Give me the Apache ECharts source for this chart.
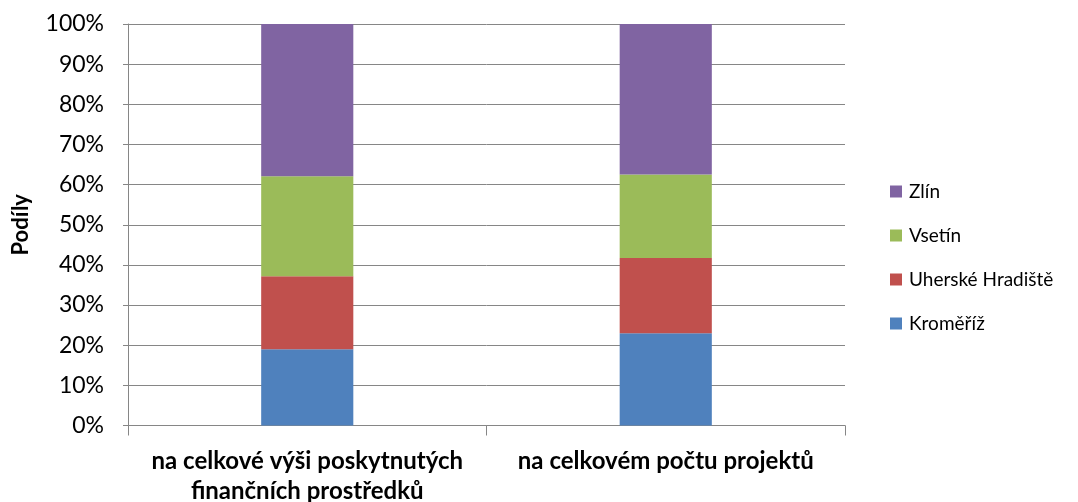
<!DOCTYPE html>
<html><head><meta charset="utf-8">
<script src="https://cdn.jsdelivr.net/npm/echarts@6/dist/echarts.min.js"></script>
<style>html,body{margin:0;padding:0;background:#fff}#c{width:1078px;height:502px}</style>
</head><body><div id="c"></div>
<script>
const categories = ['na celkové výši poskytnutých\nfinančních prostředků', 'na celkovém počtu projektů'];
const seriesNames = ['Kroměříž', 'Uherské Hradiště', 'Vsetín', 'Zlín'];
const kromeriz = [19.0, 23.0];
const uherskeHradiste = [18.2, 18.7];
const vsetin = [24.9, 20.8];
const zlin = [37.9, 37.5];
const yTicks = [0, 10, 20, 30, 40, 50, 60, 70, 80, 90, 100];
const colors = ['#4F81BD', '#C0504D', '#9BBB59', '#8064A2'];
const values = [kromeriz, uherskeHradiste, vsetin, zlin];
const font = 'Lato, "Open Sans", sans-serif';

const chart = echarts.init(document.getElementById('c'));
chart.setOption({
  animation: false,
  grid: {left: 128, right: 233, top: 24, bottom: 76.5, containLabel: false, outerBoundsMode: 'none'},
  legend: {
    orient: 'vertical', left: 885, top: 177,
    data: seriesNames.slice().reverse(),
    itemWidth: 12, itemHeight: 12, itemGap: 25,
    icon: 'rect',
    textStyle: {fontFamily: font, fontSize: 19, color: '#000', padding: [0,0,0,2]}
  },
  xAxis: {
    type: 'category', data: categories,
    axisLine: {lineStyle: {color: '#868686'}},
    axisTick: {show: true, length: 10, interval: 0, lineStyle: {color: '#868686'}},
    axisLabel: {fontFamily: font, fontSize: 24, fontWeight: 'bold', color: '#000', margin: 21, lineHeight: 30, interval: 0, hideOverlap: false}
  },
  yAxis: {
    type: 'value', min: 0, max: 100, interval: 10,
    name: 'Podíly', nameLocation: 'middle', nameGap: 96, nameRotate: 90,
    nameTextStyle: {fontFamily: font, fontSize: 22, fontWeight: 'bold', color: '#000'},
    axisLine: {show: true, lineStyle: {color: '#868686'}},
    axisTick: {show: true, length: 5, lineStyle: {color: '#868686'}},
    axisLabel: {fontFamily: font, fontSize: 23, color: '#000', margin: 24,
      formatter: v => yTicks.includes(v) ? v + '%' : ''},
    splitLine: {lineStyle: {color: '#868686'}}
  },
  series: seriesNames.map((n, i) => ({
    name: n, type: 'bar', stack: 'a', data: values[i], barWidth: '25.7%',
    itemStyle: {color: colors[i]}
  }))
});
</script></body></html>
